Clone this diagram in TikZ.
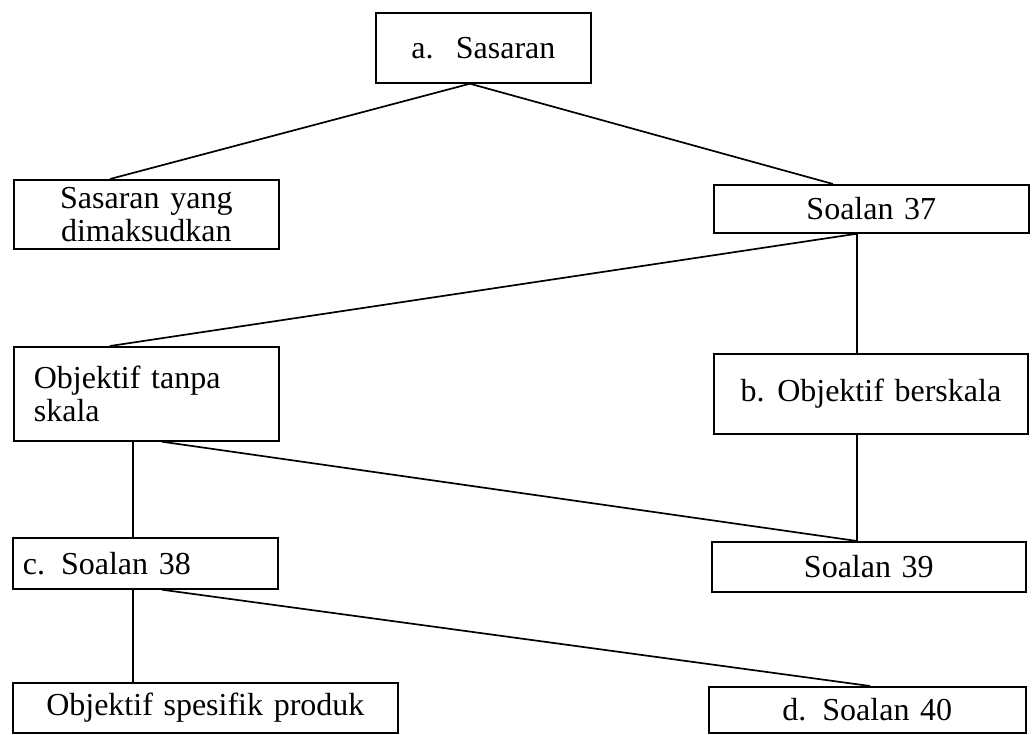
\documentclass[tikz,border=0pt]{standalone}
\usepackage{fontspec}
\setmainfont{Liberation Serif}
\usetikzlibrary{calc}
\begin{document}
\begin{tikzpicture}[x=1pt,y=-1pt,
  box/.style={draw, line width=1.7pt, anchor=north west, inner ysep=0pt,
    font=\fontsize{32}{33}\selectfont},
  link/.style={line width=1.7pt}]
\useasboundingbox (0,0) rectangle (1035,734);
\node[box, minimum width=215pt, minimum height=70pt, text width=195pt, inner xsep=10pt, align=center] (A) at (375,12) {a.\hspace{0.7em}Sasaran};
\node[box, minimum width=265pt, minimum height=69pt, text width=245pt, inner xsep=10pt, align=center] (B) at (13,179) {Sasaran yang\\dimaksudkan};
\node[box, minimum width=315pt, minimum height=48pt, text width=295pt, inner xsep=10pt, align=center] (C) at (713,184) {Soalan 37};
\node[box, minimum width=265pt, minimum height=94pt, text width=235pt, inner xsep=15pt, align=left] (D) at (13,346) {\hspace{5pt}Objektif tanpa\\\hspace{5pt}skala};
\node[box, minimum width=314pt, minimum height=80pt, text width=294pt, inner xsep=10pt, align=center] (E) at (713,353) {b.\hspace{0.4em}Objektif berskala};
\node[box, minimum width=265pt, minimum height=51pt, text width=255pt, inner xsep=5pt, align=left] (F) at (12,537) {\hspace{5pt}c.\hspace{0.5em}Soalan 38};
\node[box, minimum width=314pt, minimum height=50pt, text width=294pt, inner xsep=10pt, align=center] (G) at (711,541) {Soalan 39};
\node[box, minimum width=385pt, minimum height=50pt, text width=365pt, inner xsep=10pt, align=center] (H) at (12,682) {Objektif spesifik produk};
\node[box, minimum width=317pt, minimum height=46pt, text width=297pt, inner xsep=10pt, align=center] (I) at (708,686) {d.\hspace{0.5em}Soalan 40};
\draw[link] ($(A.south west)+(95,0)$) -- ($(B.north west)+(97,0)$);
\draw[link] ($(A.south west)+(95,0)$) -- ($(C.north west)+(120,0)$);
\draw[link] ($(C.south west)+(144,0)$) -- ($(D.north west)+(97,0)$);
\draw[link] ($(C.south west)+(144,0)$) -- ($(E.north west)+(144,0)$);
\draw[link] ($(D.south west)+(120,0)$) -- ($(F.north west)+(121,0)$);
\draw[link] ($(D.south west)+(149,0)$) -- ($(G.north west)+(146,0)$);
\draw[link] ($(E.south west)+(144,0)$) -- ($(G.north west)+(146,0)$);
\draw[link] ($(F.south west)+(121,0)$) -- ($(H.north west)+(121,0)$);
\draw[link] ($(F.south west)+(150,0)$) -- ($(I.north west)+(162,0)$);
\end{tikzpicture}
\end{document}
